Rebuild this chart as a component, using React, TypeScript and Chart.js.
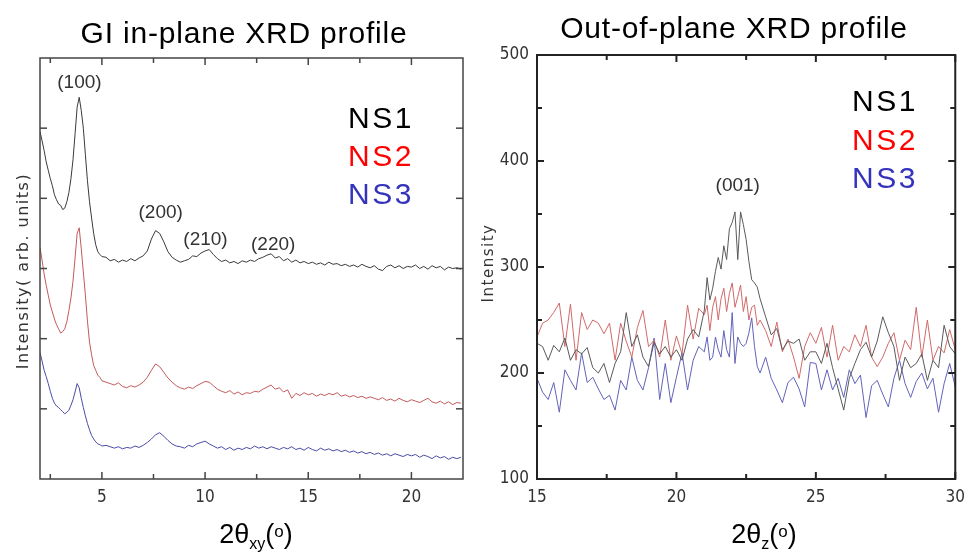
import React, { useEffect, useRef } from 'react';
import { Chart, registerables } from 'chart.js';

Chart.register(...registerables);

// ---------------- In-plane (left) data ----------------
const inPlaneTheta = [
  2.0, 2.1, 2.2, 2.3, 2.4, 2.5, 2.6, 2.7, 2.8, 2.9,
  3.0, 3.1, 3.2, 3.3, 3.4, 3.5, 3.6, 3.7, 3.8, 3.9,
  4.0, 4.1, 4.2, 4.3, 4.4, 4.5, 4.6, 4.7, 4.8, 4.9,
  5.0,
  5.2, 5.4, 5.6, 5.8, 6.0, 6.2, 6.4, 6.6, 6.8, 7.0,
  7.2, 7.4, 7.6, 7.8, 8.0, 8.2, 8.4, 8.6, 8.8, 9.0,
  9.2, 9.4, 9.6, 9.8, 10.0, 10.2, 10.4, 10.6, 10.8, 11.0,
  11.2, 11.4, 11.6, 11.8, 12.0, 12.2, 12.4, 12.6, 12.8, 13.0,
  13.2, 13.4, 13.6, 13.8, 14.0, 14.2, 14.4, 14.6, 14.8, 15.0,
  15.2, 15.4, 15.6, 15.8, 16.0, 16.2, 16.4, 16.6, 16.8, 17.0,
  17.2, 17.4, 17.6, 17.8, 18.0, 18.2, 18.4, 18.6, 18.8, 19.0,
  19.2, 19.4, 19.6, 19.8, 20.0, 20.2, 20.4, 20.6, 20.8, 21.0,
  21.2, 21.4, 21.6, 21.8, 22.0, 22.2, 22.4,
];
const inPlaneNS1 = [
  4.95, 4.82, 4.68, 4.52, 4.40, 4.28, 4.18, 4.05, 3.98, 3.92,
  3.90, 3.84, 3.86, 3.95, 4.08, 4.28, 4.55, 4.92, 5.30, 5.44,
  5.25, 5.00, 4.62, 4.25, 3.95, 3.72, 3.50, 3.34, 3.24, 3.20,
  3.17,
  3.16, 3.11, 3.13, 3.09, 3.12, 3.10, 3.14, 3.11, 3.15, 3.18,
  3.25, 3.42, 3.54, 3.50, 3.38, 3.24, 3.16, 3.12, 3.09, 3.11,
  3.13, 3.18, 3.17, 3.22, 3.25, 3.27, 3.20, 3.14, 3.10, 3.12,
  3.08, 3.10, 3.07, 3.11, 3.09, 3.12, 3.10, 3.14, 3.16, 3.19,
  3.21, 3.15, 3.17, 3.11, 3.14, 3.09, 3.12, 3.08, 3.10, 3.07,
  3.09, 3.06, 3.08, 3.05, 3.09, 3.06, 3.07, 3.04, 3.06, 3.03,
  3.05, 3.02, 3.06, 3.03, 3.01, 3.04, 2.99, 2.97, 3.03, 3.05,
  3.01, 3.04, 3.00, 3.03, 3.02, 3.05, 3.00, 3.03, 2.99, 3.04,
  3.01, 3.03, 2.98, 3.02, 3.00, 3.01, 2.99,
];
const inPlaneNS2 = [
  3.30, 3.12, 2.92, 2.76, 2.62, 2.48, 2.38, 2.28, 2.20, 2.14,
  2.08, 2.10, 2.14, 2.24, 2.40, 2.58, 2.82, 3.15, 3.50, 3.58,
  3.28, 2.95, 2.62, 2.25, 1.95, 1.77, 1.62, 1.55, 1.48, 1.45,
  1.40,
  1.38, 1.36, 1.34, 1.37, 1.32, 1.30, 1.33, 1.31, 1.34, 1.38,
  1.45, 1.55, 1.64, 1.60, 1.52, 1.44, 1.38, 1.33, 1.30, 1.28,
  1.31, 1.29, 1.33, 1.36, 1.39, 1.38, 1.33, 1.28, 1.25, 1.23,
  1.26, 1.21, 1.24, 1.20, 1.23, 1.22, 1.25, 1.24, 1.28, 1.31,
  1.34, 1.28, 1.30, 1.24, 1.27, 1.15, 1.22, 1.19, 1.23, 1.20,
  1.22, 1.18, 1.21, 1.19, 1.22, 1.20, 1.23, 1.18, 1.20, 1.17,
  1.19, 1.16, 1.18, 1.15, 1.17, 1.15, 1.13, 1.16, 1.12, 1.14,
  1.11, 1.15, 1.12, 1.10, 1.13, 1.11, 1.09, 1.12, 1.15, 1.10,
  1.08, 1.11, 1.07, 1.10, 1.06, 1.09, 1.08,
];
const inPlaneNS3 = [
  1.80, 1.68, 1.55, 1.46, 1.36, 1.25, 1.15, 1.08, 1.04, 1.02,
  0.99, 0.96, 0.93, 0.95, 0.98, 1.05, 1.13, 1.24, 1.36, 1.30,
  1.15, 1.02, 0.90, 0.79, 0.70, 0.62, 0.57, 0.53, 0.50, 0.49,
  0.47,
  0.48, 0.46, 0.44, 0.46, 0.43, 0.45, 0.44, 0.47, 0.45, 0.48,
  0.52, 0.57, 0.63, 0.66, 0.61, 0.55, 0.50, 0.47, 0.46, 0.44,
  0.48, 0.46, 0.50, 0.52, 0.54, 0.50, 0.47, 0.44, 0.46, 0.42,
  0.45, 0.41, 0.44, 0.42, 0.45, 0.43, 0.47, 0.44, 0.46, 0.43,
  0.46, 0.44, 0.42, 0.45, 0.43, 0.46, 0.42, 0.44, 0.41, 0.45,
  0.42, 0.40, 0.44, 0.41, 0.43, 0.40, 0.42, 0.39, 0.41, 0.38,
  0.40, 0.37, 0.39, 0.36, 0.38, 0.35, 0.37, 0.34, 0.36, 0.33,
  0.36, 0.34, 0.32, 0.35, 0.33, 0.35, 0.31, 0.34, 0.32, 0.29,
  0.33, 0.30, 0.32, 0.28, 0.31, 0.29, 0.31,
];
const inPlaneXTicks = [5, 10, 15, 20];
const inPlaneXMinor = [2.5, 7.5, 12.5, 17.5];
const inPlaneYTicks = [1, 2, 3, 4, 5];
const inPlanePeaks = [
  { text: '(100)', x: 3.91, y: 5.57 },
  { text: '(200)', x: 7.85, y: 3.72 },
  { text: '(210)', x: 10.02, y: 3.33 },
  { text: '(220)', x: 13.3, y: 3.26 },
];

// ---------------- Out-of-plane (right) data ----------------
const outTheta = [
  15.0, 15.2, 15.4, 15.6, 15.8, 16.0, 16.2, 16.4, 16.6, 16.8,
  17.0, 17.2, 17.4, 17.6, 17.8, 18.0, 18.2, 18.4, 18.6, 18.8,
  19.0, 19.2, 19.4, 19.6, 19.8, 20.0, 20.2, 20.4, 20.6, 20.8,
  21.0, 21.1, 21.2, 21.3, 21.4, 21.5, 21.6, 21.7, 21.8, 21.9,
  22.0, 22.1, 22.2, 22.3, 22.4, 22.5, 22.6, 22.7, 22.8, 22.9,
  23.0,
  23.2, 23.4, 23.6, 23.8, 24.0, 24.2, 24.4, 24.6, 24.8,
  25.0, 25.2, 25.4, 25.6, 25.8, 26.0, 26.2, 26.4, 26.6, 26.8,
  27.0, 27.2, 27.4, 27.6, 27.8, 28.0, 28.2, 28.4, 28.6, 28.8,
  29.0, 29.2, 29.4, 29.6, 29.8, 30.0,
];
const outNS1 = [
  228, 225, 212, 226, 220, 233, 212, 222, 218, 224,
  205, 200, 209, 191, 209, 220, 257, 225, 236, 215,
  206, 229, 218, 225, 215, 222, 212, 232, 241, 234,
  259, 290, 269, 280, 296, 309, 298, 320, 307, 336,
  342, 352, 307, 352, 340, 326, 305, 288, 285, 281,
  270,
  253, 236, 242, 222, 230, 228, 232, 212, 220,
  220, 209, 228, 205, 185, 165, 195, 209, 222, 229,
  215, 230, 253, 238, 225, 193, 215, 205, 209, 218,
  193, 212, 205, 245, 225, 218,
];
const outNS2 = [
  234, 247, 250, 257, 266, 225, 265, 212, 257, 241,
  250, 247, 237, 247, 212, 247, 230, 215, 243, 259,
  225, 231, 215, 250, 212, 235, 218, 264, 232, 261,
  255, 264, 240, 262, 272, 250, 270, 280, 258, 275,
  285, 262, 272, 283, 258, 272, 250, 262, 264, 245,
  250,
  240, 225, 248, 220, 232, 215, 195, 225, 238,
  228, 243, 215, 245, 212, 225, 220, 236, 225, 245,
  215, 206, 215, 228, 238, 212, 231, 222, 262, 215,
  250, 212, 225, 219, 241, 222,
];
const outNS3 = [
  195, 182, 175, 191, 163, 203, 193, 184, 219, 191,
  196, 185, 175, 179, 165, 193, 184, 215, 193, 184,
  205, 233, 175, 209, 172, 196, 219, 184, 212, 225,
  220, 234, 212, 215, 234, 222, 215, 240, 222, 215,
  257, 209, 234, 228, 225, 228, 238, 252, 225, 206,
  200,
  215, 195, 184, 172, 191, 196, 185, 168, 210,
  209, 184, 203, 184, 195, 177, 203, 190, 198, 158,
  188, 193, 180, 168, 195, 212, 190, 177, 192, 200,
  185, 195, 163, 190, 209, 187,
];
const outXTicks = [15, 20, 25, 30];
const outXMinor = [17.5, 22.5, 27.5];
const outYTicks = [100, 200, 300, 400, 500];
const outYMinor = [150, 250, 350, 450];
const outPeaks = [{ text: '(001)', x: 22.2, y: 372 }];

const seriesNames = ['NS1', 'NS2', 'NS3'];
const legendColors = ['#000000', '#ff0000', '#3333bb'];

const SANS = "'Liberation Sans', Arial, sans-serif";
const NARROW = "'Liberation Sans Narrow', 'DejaVu Sans Condensed', sans-serif";
const DEJAVU = "'DejaVu Sans', sans-serif";

type Part = { t: string; size: number; dy: number };

function drawComposite(ctx: CanvasRenderingContext2D, parts: Part[], cx: number, baseline: number) {
  ctx.save();
  ctx.fillStyle = '#000';
  ctx.textAlign = 'left';
  ctx.textBaseline = 'alphabetic';
  (ctx as any).letterSpacing = '0px';
  let total = 0;
  const widths = parts.map((p) => {
    ctx.font = `${p.size}px ${SANS}`;
    const w = ctx.measureText(p.t).width;
    total += w;
    return w;
  });
  let x = cx - total / 2;
  parts.forEach((p, i) => {
    ctx.font = `${p.size}px ${SANS}`;
    ctx.fillText(p.t, x, baseline + p.dy);
    x += widths[i];
  });
  ctx.restore();
}

function makeFrame(cfg: {
  xMajor: number[]; xMinor: number[]; yMajor: number[]; yMinor: number[];
  color: string; width: number; major: number; minor: number;
}) {
  return {
    id: 'frame',
    afterDatasetsDraw(chart: any) {
      const { ctx, chartArea: a, scales } = chart;
      const xs = scales.x, ys = scales.y;
      ctx.save();
      ctx.strokeStyle = cfg.color;
      ctx.lineWidth = cfg.width;
      ctx.strokeRect(a.left, a.top, a.right - a.left, a.bottom - a.top);
      const seg = (x1: number, y1: number, x2: number, y2: number) => {
        ctx.beginPath(); ctx.moveTo(x1, y1); ctx.lineTo(x2, y2); ctx.stroke();
      };
      const xt = (vals: number[], len: number) => vals.forEach((v) => {
        const p = xs.getPixelForValue(v);
        seg(p, a.bottom, p, a.bottom - len);
        seg(p, a.top, p, a.top + len);
      });
      const yt = (vals: number[], len: number) => vals.forEach((v) => {
        const p = ys.getPixelForValue(v);
        seg(a.left, p, a.left + len, p);
        seg(a.right, p, a.right - len, p);
      });
      xt(cfg.xMajor, cfg.major); xt(cfg.xMinor, cfg.minor);
      yt(cfg.yMajor, cfg.major); yt(cfg.yMinor, cfg.minor);
      ctx.restore();
    },
  };
}

function makeTexts(cfg: {
  title: string; titleX: number; titleY: number;
  peaks: { text: string; x: number; y: number }[];
  legendDx: number; legendDy: number; legendStep: number;
  yTitle: string; yTitleX: number; yTitleY: number; yTitleSize: number;
  xParts: Part[]; xTitleX: number;
}) {
  return {
    id: 'texts',
    afterDraw(chart: any) {
      const { ctx, chartArea: a, scales } = chart;
      ctx.save();
      // title
      ctx.fillStyle = '#000';
      ctx.font = `30px ${SANS}`;
      (ctx as any).letterSpacing = '0.8px';
      ctx.textAlign = 'center';
      ctx.textBaseline = 'alphabetic';
      ctx.fillText(cfg.title, cfg.titleX, cfg.titleY);
      // legend
      ctx.font = `30px ${SANS}`;
      (ctx as any).letterSpacing = '2.5px';
      ctx.textAlign = 'left';
      seriesNames.forEach((n, i) => {
        ctx.fillStyle = legendColors[i];
        ctx.fillText(n, a.left + cfg.legendDx, a.top + cfg.legendDy + i * cfg.legendStep);
      });
      // peaks
      (ctx as any).letterSpacing = '0px';
      ctx.font = `19px ${SANS}`;
      ctx.fillStyle = '#333';
      ctx.textAlign = 'center';
      cfg.peaks.forEach((p) => {
        ctx.fillText(p.text, scales.x.getPixelForValue(p.x), scales.y.getPixelForValue(p.y));
      });
      // y title
      ctx.save();
      ctx.translate(cfg.yTitleX, cfg.yTitleY);
      ctx.rotate(-Math.PI / 2);
      ctx.font = `${cfg.yTitleSize}px ${DEJAVU}`;
      (ctx as any).letterSpacing = '1.5px';
      ctx.fillStyle = '#333';
      ctx.textAlign = 'center';
      ctx.fillText(cfg.yTitle, 0, 0);
      ctx.restore();
      ctx.restore();
      drawComposite(ctx, cfg.xParts, cfg.xTitleX, 543);
    },
  };
}

const lineDs = (xs: number[], ys: number[], color: string) => ({
  data: xs.map((x, i) => ({ x, y: ys[i] })),
  borderColor: color,
  borderWidth: 1,
  pointRadius: 0,
  tension: 0,
  fill: false,
});

function leftConfig(): any {
  return {
    type: 'line',
    data: {
      datasets: [
        lineDs(inPlaneTheta, inPlaneNS1, '#3a3a3a'),
        lineDs(inPlaneTheta, inPlaneNS2, '#c25a5a'),
        lineDs(inPlaneTheta, inPlaneNS3, '#4a4aa6'),
      ],
    },
    options: {
      responsive: false,
      animation: false,
      devicePixelRatio: 1,
      layout: { padding: { top: 58, right: 17, left: 0, bottom: 0 } },
      plugins: { legend: { display: false }, tooltip: { enabled: false }, title: { display: false } },
      scales: {
        x: {
          type: 'linear', min: 2, max: 22.5,
          grid: { display: false, drawTicks: false },
          border: { display: false },
          afterBuildTicks: (s: any) => { s.ticks = inPlaneXTicks.map((v) => ({ value: v })); },
          afterFit: (s: any) => { s.height = 74; },
          ticks: { font: { family: NARROW, size: 17 }, color: '#333', padding: 8, maxRotation: 0, autoSkip: false },
        },
        y: {
          type: 'linear', min: 0, max: 6,
          ticks: { display: false },
          grid: { display: false, drawTicks: false },
          border: { display: false },
          afterFit: (s: any) => { s.width = 40; },
        },
      },
    },
    plugins: [
      makeFrame({ xMajor: inPlaneXTicks, xMinor: inPlaneXMinor, yMajor: inPlaneYTicks, yMinor: [], color: '#444', width: 1.5, major: 7, minor: 5 }),
      makeTexts({
        title: 'GI in-plane XRD profile', titleX: 244, titleY: 43,
        peaks: inPlanePeaks, legendDx: 308, legendDy: 70, legendStep: 38,
        yTitle: 'Intensity( arb. units)', yTitleX: 28, yTitleY: 271, yTitleSize: 16,
        xParts: [
          { t: '2θ', size: 27, dy: 0 },
          { t: 'xy', size: 16, dy: 6 },
          { t: '(', size: 27, dy: 0 },
          { t: 'o', size: 17, dy: -6 },
          { t: ')', size: 27, dy: 0 },
        ],
        xTitleX: 256,
      }),
    ],
  };
}

function rightConfig(): any {
  return {
    type: 'line',
    data: {
      datasets: [
        lineDs(outTheta, outNS1, '#5a5a5a'),
        lineDs(outTheta, outNS2, '#d06a6a'),
        lineDs(outTheta, outNS3, '#6262ba'),
      ],
    },
    options: {
      responsive: false,
      animation: false,
      devicePixelRatio: 1,
      layout: { padding: { top: 55, right: 9, left: 0, bottom: 0 } },
      plugins: { legend: { display: false }, tooltip: { enabled: false }, title: { display: false } },
      scales: {
        x: {
          type: 'linear', min: 15, max: 30,
          grid: { display: false, drawTicks: false },
          border: { display: false },
          afterBuildTicks: (s: any) => { s.ticks = outXTicks.map((v) => ({ value: v })); },
          afterFit: (s: any) => { s.height = 74; },
          ticks: { font: { family: NARROW, size: 17 }, color: '#333', padding: 8, maxRotation: 0, autoSkip: false },
        },
        y: {
          type: 'linear', min: 100, max: 500,
          grid: { display: false, drawTicks: false },
          border: { display: false },
          afterBuildTicks: (s: any) => { s.ticks = outYTicks.map((v) => ({ value: v })); },
          afterFit: (s: any) => { s.width = 57; },
          ticks: { font: { family: NARROW, size: 17 }, color: '#333', padding: 8, autoSkip: false },
        },
      },
    },
    plugins: [
      makeFrame({ xMajor: outXTicks, xMinor: outXMinor, yMajor: outYTicks, yMinor: outYMinor, color: '#222', width: 2, major: 7, minor: 5 }),
      makeTexts({
        title: 'Out-of-plane XRD profile', titleX: 254, titleY: 38,
        peaks: outPeaks, legendDx: 315, legendDy: 56, legendStep: 38.5,
        yTitle: 'Intensity', yTitleX: 13, yTitleY: 263, yTitleSize: 15,
        xParts: [
          { t: '2θ', size: 27, dy: 0 },
          { t: 'z', size: 16, dy: 6 },
          { t: '(', size: 27, dy: 0 },
          { t: 'o', size: 17, dy: -6 },
          { t: ')', size: 27, dy: 0 },
        ],
        xTitleX: 284,
      }),
    ],
  };
}

export default function App() {
  const leftRef = useRef<HTMLCanvasElement>(null);
  const rightRef = useRef<HTMLCanvasElement>(null);
  useEffect(() => {
    const c1 = new Chart(leftRef.current as HTMLCanvasElement, leftConfig());
    const c2 = new Chart(rightRef.current as HTMLCanvasElement, rightConfig());
    return () => { c1.destroy(); c2.destroy(); };
  }, []);
  return (
    <div style={{ position: 'fixed', left: 0, top: 0, width: 973, height: 553, background: '#fff', overflow: 'hidden' }}>
      <canvas ref={leftRef} width={480} height={553} style={{ position: 'absolute', left: 0, top: 0, width: 480, height: 553 }} />
      <canvas ref={rightRef} width={493} height={553} style={{ position: 'absolute', left: 480, top: 0, width: 493, height: 553 }} />
    </div>
  );
}
